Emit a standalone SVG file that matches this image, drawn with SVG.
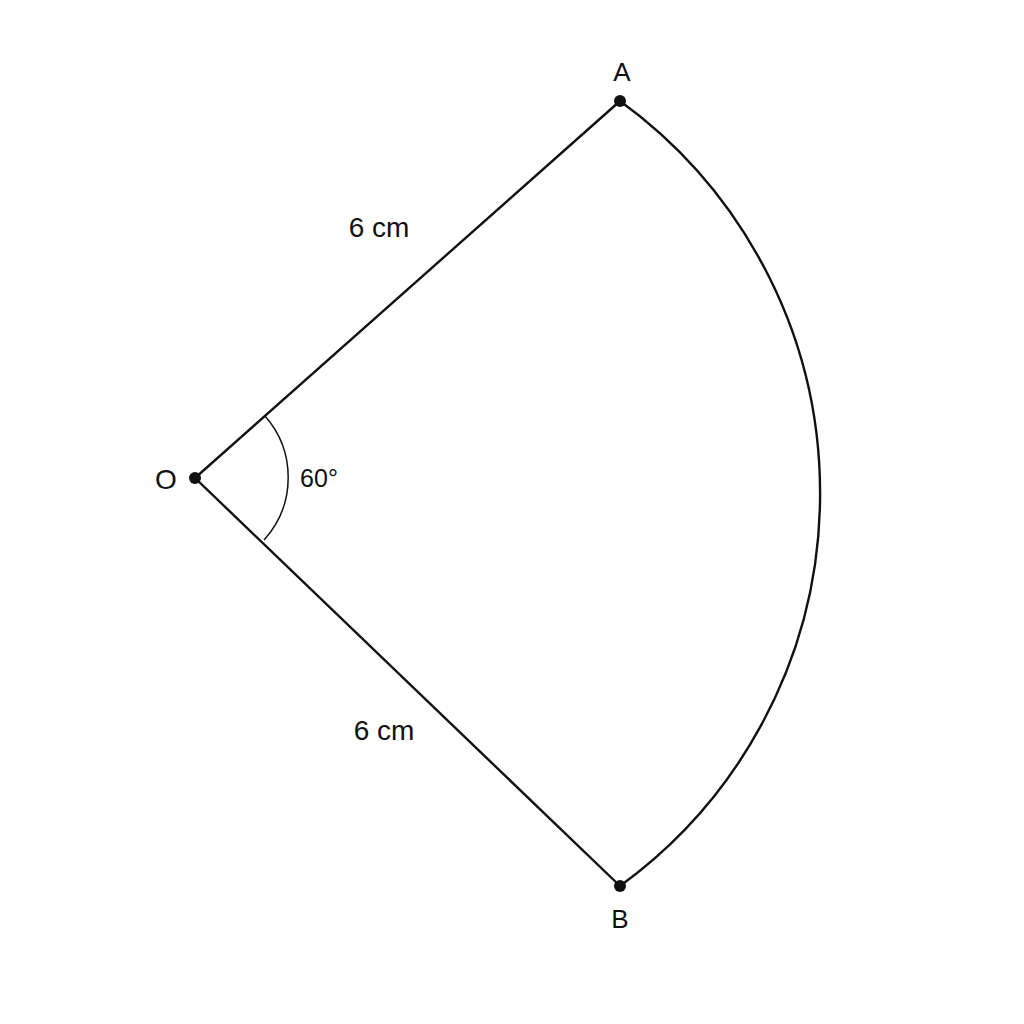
<svg xmlns="http://www.w3.org/2000/svg" width="1024" height="1024" viewBox="0 0 1024 1024">
<style>
.ln{fill:none;stroke:#111;stroke-width:2.4;stroke-linecap:round}
.thin{fill:none;stroke:#111;stroke-width:1.5}
.pt{fill:#111}
.lbl{font-family:"Liberation Sans",Arial,sans-serif;fill:#111;text-anchor:middle}
</style>
<rect width="1024" height="1024" fill="#fff"/>
<g id="connectors">
<line class="ln" x1="195" y1="478" x2="620" y2="101"/>
<line class="ln" x1="195" y1="478" x2="620" y2="886"/>
<path class="ln" d="M620,101 A485,485 0 0 1 620,886"/>
<path class="thin" d="M265,416 A93,93 0 0 1 264,540"/>
</g>
<g id="O"><circle class="pt" cx="195" cy="478" r="6"/><text class="lbl" x="166" y="489" font-size="28">O</text></g>
<g id="A"><circle class="pt" cx="620" cy="101" r="6"/><text class="lbl" x="622" y="81" font-size="26">A</text></g>
<g id="B"><circle class="pt" cx="620" cy="886" r="6"/><text class="lbl" x="620" y="928" font-size="26">B</text></g>
<g id="labels">
<text class="lbl" x="379" y="237" font-size="28">6 cm</text>
<text class="lbl" x="384" y="740" font-size="28">6 cm</text>
<text class="lbl" x="319" y="487" font-size="25">60°</text>
</g>
</svg>
